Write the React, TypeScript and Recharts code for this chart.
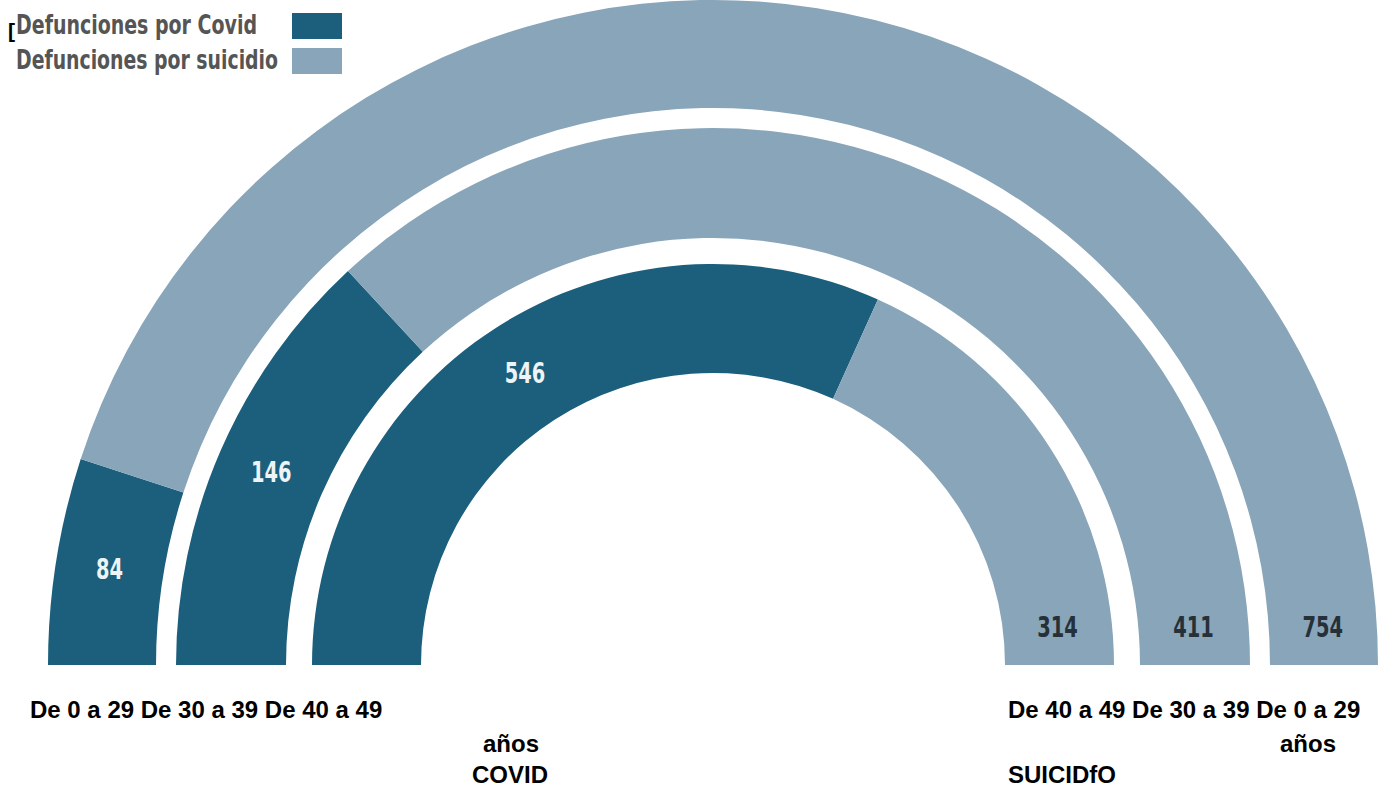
import { PieChart, Pie, Cell, Legend } from 'recharts'

// datos
const SERIES = ['Defunciones por Covid', 'Defunciones por suicidio']
const AGE_GROUPS = ['De 0 a 29', 'De 30 a 39', 'De 40 a 49']
const COVID = [84, 146, 546]
const SUICIDIO = [754, 411, 314]

const COLORS = ['#1b5f7c', '#88a5b9']

// anillos: exterior = 0 a 29, interior = 40 a 49
const RINGS = [
  { inner: 557, outer: 665 },
  { inner: 427, outer: 537 },
  { inner: 292, outer: 401 },
]

const CX = 713
const CY = 665
const RADIAN = Math.PI / 180
const NARROW = "'Liberation Sans Narrow', 'DejaVu Sans Condensed', 'Liberation Sans', sans-serif"
const ARIAL = "'Liberation Sans', Arial, sans-serif"

const ringData = AGE_GROUPS.map((g, i) => [
  { name: SERIES[0], group: g, value: COVID[i] },
  { name: SERIES[1], group: g, value: SUICIDIO[i] },
])

function numText(x: number, y: number, value: number, fill: string) {
  const s = String(value)
  return (
    <text x={x} y={y} fill={fill} textAnchor="middle" dominantBaseline="central"
      fontFamily={NARROW} fontWeight="bold" fontSize={28}
      textLength={s.length * 13.5} lengthAdjust="spacingAndGlyphs">
      {s}
    </text>
  )
}

function renderLabel(props: any) {
  const { cx, cy, midAngle, innerRadius, outerRadius, index, value } = props
  const r = (innerRadius + outerRadius) / 2
  if (index === 0) {
    const x = cx + r * Math.cos(-midAngle * RADIAN)
    const y = cy + r * Math.sin(-midAngle * RADIAN)
    return numText(x, y, value, '#eef3f6')
  }
  // suicidio: cerca del extremo derecho del anillo
  const dy = 38
  const x = cx + Math.sqrt(r * r - dy * dy)
  return numText(x, cy - dy, value, '#263038')
}

function renderLegend() {
  return (
    <svg width={360} height={82}>
      <text x={8} y={38} fontFamily={ARIAL} fontWeight="bold" fontSize={21} fill="#000">[</text>
      {SERIES.map((s, i) => (
        <g key={s}>
          <text x={16} y={34 + 35 * i} fill="#555" fontFamily={NARROW} fontWeight="bold"
            fontSize={27} textLength={i === 0 ? 241 : 262} lengthAdjust="spacingAndGlyphs">
            {s}
          </text>
          <rect x={292} y={13 + 35 * i} width={50} height={26} fill={COLORS[i]} />
        </g>
      ))}
    </svg>
  )
}

export default function App() {
  const leftRow = AGE_GROUPS.join(' ')
  const rightRow = [...AGE_GROUPS].reverse().join(' ')
  return (
    <div style={{ position: 'absolute', left: 0, top: 0, width: 1385, height: 789, background: '#fff' }}>
      <PieChart width={1385} height={789} margin={{ top: 0, right: 0, bottom: 0, left: 0 }}>
        {ringData.map((data, i) => (
          <Pie
            key={AGE_GROUPS[i]}
            data={data}
            dataKey="value"
            nameKey="name"
            cx={CX}
            cy={CY}
            startAngle={180}
            endAngle={0}
            innerRadius={RINGS[i].inner}
            outerRadius={RINGS[i].outer}
            paddingAngle={0}
            stroke="none"
            label={renderLabel}
            labelLine={false}
            isAnimationActive={false}
          >
            {data.map((_, j) => (
              <Cell key={j} fill={COLORS[j]} />
            ))}
          </Pie>
        ))}
        <Legend
          layout="horizontal"
          verticalAlign="middle"
          align="center"
          content={renderLegend}
          wrapperStyle={{ position: 'absolute', left: 0, top: 0, width: 360, height: 82 }}
        />
      </PieChart>
      <svg width={1385} height={789}
        style={{ position: 'absolute', left: 0, top: 0, pointerEvents: 'none' }}>
        <g fontFamily={ARIAL} fontWeight="bold" fontSize={24} fill="#000">
          <text x={30} y={718}>{leftRow}</text>
          <text x={511} y={752} textAnchor="middle">años</text>
          <text x={510} y={783} textAnchor="middle">COVID</text>
          <text x={1008} y={718}>{rightRow}</text>
          <text x={1308} y={752} textAnchor="middle">años</text>
          <text x={1008} y={783}>SUICIDfO</text>
        </g>
      </svg>
    </div>
  )
}
